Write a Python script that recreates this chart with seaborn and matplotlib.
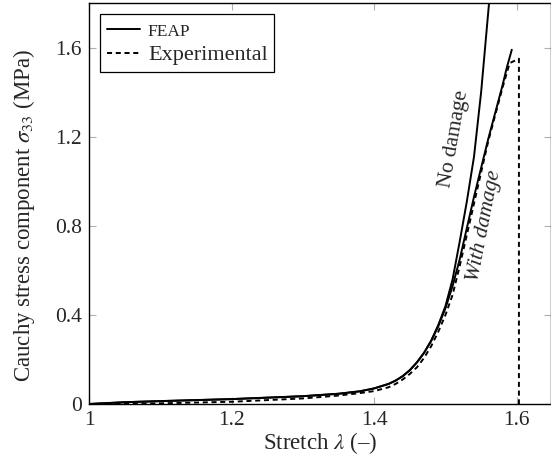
import matplotlib
matplotlib.use("Agg")
import matplotlib.pyplot as plt
import seaborn as sns
import numpy as np
from matplotlib.ticker import FixedLocator, FuncFormatter

# ---- data ----
lam_nodmg = [1.00, 1.05, 1.10, 1.20, 1.30, 1.35, 1.38, 1.40, 1.42, 1.43, 1.44, 1.45, 1.46,
             1.47, 1.48, 1.49, 1.50, 1.51, 1.52, 1.53, 1.54, 1.55, 1.56, 1.565]
sig_nodmg = [0.0, 0.008, 0.013, 0.022, 0.035, 0.046, 0.057, 0.07, 0.09, 0.105, 0.125, 0.152, 0.187,
             0.23, 0.285, 0.355, 0.44, 0.56, 0.73, 0.91, 1.11, 1.40, 1.76, 1.94]

lam_dmg = [1.00, 1.05, 1.10, 1.20, 1.30, 1.35, 1.38, 1.40, 1.42, 1.43, 1.44, 1.45, 1.46,
           1.47, 1.48, 1.49, 1.50, 1.51, 1.52, 1.53, 1.54, 1.55, 1.56, 1.57, 1.58, 1.586, 1.593]
sig_dmg = [0.0, 0.008, 0.013, 0.022, 0.035, 0.046, 0.057, 0.07, 0.09, 0.105, 0.125, 0.152, 0.187,
           0.23, 0.283, 0.35, 0.43, 0.53, 0.65, 0.79, 0.93, 1.06, 1.19, 1.31, 1.43, 1.51, 1.59]

lam_exp = [1.00, 1.05, 1.10, 1.20, 1.30, 1.35, 1.38, 1.40, 1.42, 1.43, 1.44, 1.45, 1.46,
           1.47, 1.48, 1.49, 1.50, 1.51, 1.52, 1.53, 1.54, 1.55, 1.56, 1.57, 1.58, 1.59,
           1.603, 1.603]
sig_exp = [0.0, 0.001, 0.003, 0.01, 0.025, 0.038, 0.049, 0.058, 0.075, 0.09, 0.11, 0.135, 0.165,
           0.207, 0.26, 0.325, 0.40, 0.49, 0.62, 0.76, 0.90, 1.04, 1.18, 1.30, 1.42, 1.53,
           1.55, 0.0]

xticks = [1.0, 1.2, 1.4, 1.6]
yticks = [0.0, 0.4, 0.8, 1.2, 1.6]

# ---- style ----
sns.set_style("ticks")
plt.rcParams['font.family'] = ['Liberation Serif', 'DejaVu Serif']
plt.rcParams['mathtext.fontset'] = 'stix'

fig = plt.figure(figsize=(5.51, 4.62), dpi=100)
ax = fig.add_axes([89 / 551, 58 / 462, 462 / 551, 401 / 462])

lw = 1.4
sns.lineplot(x=lam_nodmg, y=sig_nodmg, ax=ax, sort=False, estimator=None,
             color='black', linewidth=lw, label='_nolegend_')
sns.lineplot(x=lam_dmg, y=sig_dmg, ax=ax, sort=False, estimator=None,
             color='black', linewidth=lw, label='FEAP')
sns.lineplot(x=lam_exp, y=sig_exp, ax=ax, sort=False, estimator=None,
             color='black', linewidth=lw, linestyle=(0, (2.6, 1.9)),
             label='Experimental')

ax.set_xlim(1.0, 1.648)
ax.set_ylim(0, 1.8)
ax.xaxis.set_major_locator(FixedLocator(xticks))
ax.yaxis.set_major_locator(FixedLocator(yticks))
ax.xaxis.set_major_formatter(FuncFormatter(lambda v, p: f"{v:g}"))
ax.yaxis.set_major_formatter(FuncFormatter(lambda v, p: f"{v:g}"))
ax.tick_params(axis='both', which='major', direction='in', length=5,
               width=0.8, color='#b0b0b0', labelsize=15.5,
               top=True, right=True, pad=5)
for s in ax.spines.values():
    s.set_visible(True)
    s.set_color('black')
    s.set_linewidth(1.0)

ax.set_xlabel("Stretch $\\lambda$ (–)", fontsize=16.5)
ax.set_ylabel("Cauchy stress component $\\sigma_{33}$ (MPa)", fontsize=16.5)
ax.xaxis.set_label_coords(0.5, -0.065)
ax.yaxis.set_label_coords(-0.113, 0.47)

ax.text(1.512, 1.19, "No damage", rotation=80, fontsize=15.5,
        ha='center', va='center', fontstyle='normal')
ax.text(1.554, 0.80, "With damage", rotation=79, fontsize=15.5,
        ha='center', va='center', fontstyle='italic')

leg = ax.legend(loc='upper left', bbox_to_anchor=(0.0, 1.0), frameon=True,
                fancybox=False, edgecolor='black', fontsize=16,
                handlelength=1.5, borderpad=0.3, labelspacing=0.2,
                handletextpad=0.35, borderaxespad=0.5)
leg.get_frame().set_linewidth(0.9)
leg.get_frame().set_alpha(1)
leg.get_texts()[0].set_fontsize(12.5)

fig.savefig("out.png", dpi=100)
